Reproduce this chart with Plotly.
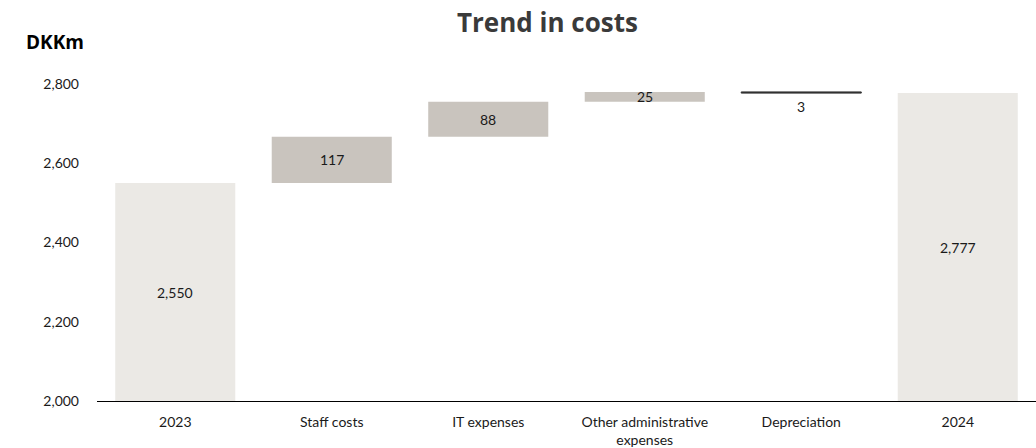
import plotly.graph_objects as go

# Cost bridge, DKKm
categories = ["2023", "Staff costs", "IT expenses", "Other administrative<br>expenses", "Depreciation", "2024"]
measures = ["absolute", "relative", "relative", "relative", "relative", "total"]
values = [2550, 117, 88, 25, -3, 0]
labels = ["2,550", "117", "88", "25", "3", "2,777"]

axis_min, axis_max = 2000, 2800

# running totals to place the value labels
starts, ends = [], []
level = 0
for m, v in zip(measures, values):
    if m == "absolute":
        s, level = axis_min, v
        e = level
    elif m == "total":
        s, e = axis_min, level
    else:
        s = level
        level += v
        e = level
    starts.append(s)
    ends.append(e)

# value labels, positioned by category index on the category axis
label_notes = []
for i, (m, v, s, e, txt) in enumerate(zip(measures, values, starts, ends, labels)):
    below = m == "relative" and v < 0
    label_notes.append(dict(
        x=i, y=min(s, e) if below else (s + e) / 2,
        xref="x", yref="y", text=txt, showarrow=False,
        yshift=-13 if below else 0, xanchor="center", yanchor="middle",
        font=dict(family="Lato, sans-serif", size=14, color="#1a1a1a"),
    ))

fig = go.Figure()
fig.add_trace(go.Waterfall(
    x=categories,
    y=values,
    measure=measures,
    textposition="none",
    connector=dict(visible=False),
    increasing=dict(marker=dict(color="#C9C4BE")),
    decreasing=dict(marker=dict(color="#333333", line=dict(color="#333333", width=1))),
    totals=dict(marker=dict(color="#EBE9E5")),
    hoverinfo="skip",
))

fig.update_layout(
    width=1036, height=448,
    margin=dict(l=97, r=0, t=84, b=47),
    paper_bgcolor="white", plot_bgcolor="white",
    showlegend=False,
    waterfallgap=0.233,
    font=dict(family="Lato, sans-serif", size=14, color="#1a1a1a"),
    xaxis=dict(
        type="category", range=[-0.5, len(categories) - 0.5],
        showline=True, linecolor="#000000", linewidth=1.3,
        showgrid=False, ticks="", tickfont=dict(size=14),
        ticklabelstandoff=8,
    ),
    yaxis=dict(
        range=[axis_min, axis_max], tickvals=[2000, 2200, 2400, 2600, 2800],
        tickformat=",", showgrid=False, zeroline=False, showline=False,
        ticks="", ticklabelstandoff=17, tickfont=dict(size=14),
    ),
    annotations=label_notes + [
        dict(text="<b>Trend in costs</b>", xref="paper", yref="paper",
             x=(547 - 97) / 939, y=1, yshift=84 - 22, xanchor="center", yanchor="middle",
             showarrow=False, font=dict(family="Open Sans, sans-serif", size=26, color="#3a3a3a")),
        dict(text="<b>DKKm</b>", xref="paper", yref="paper",
             x=-(97 - 24) / 939, y=1, yshift=84 - 42, xanchor="left", yanchor="middle",
             showarrow=False, font=dict(family="Open Sans, sans-serif", size=19, color="#000000")),
    ],
)

fig.write_html("out.html")
